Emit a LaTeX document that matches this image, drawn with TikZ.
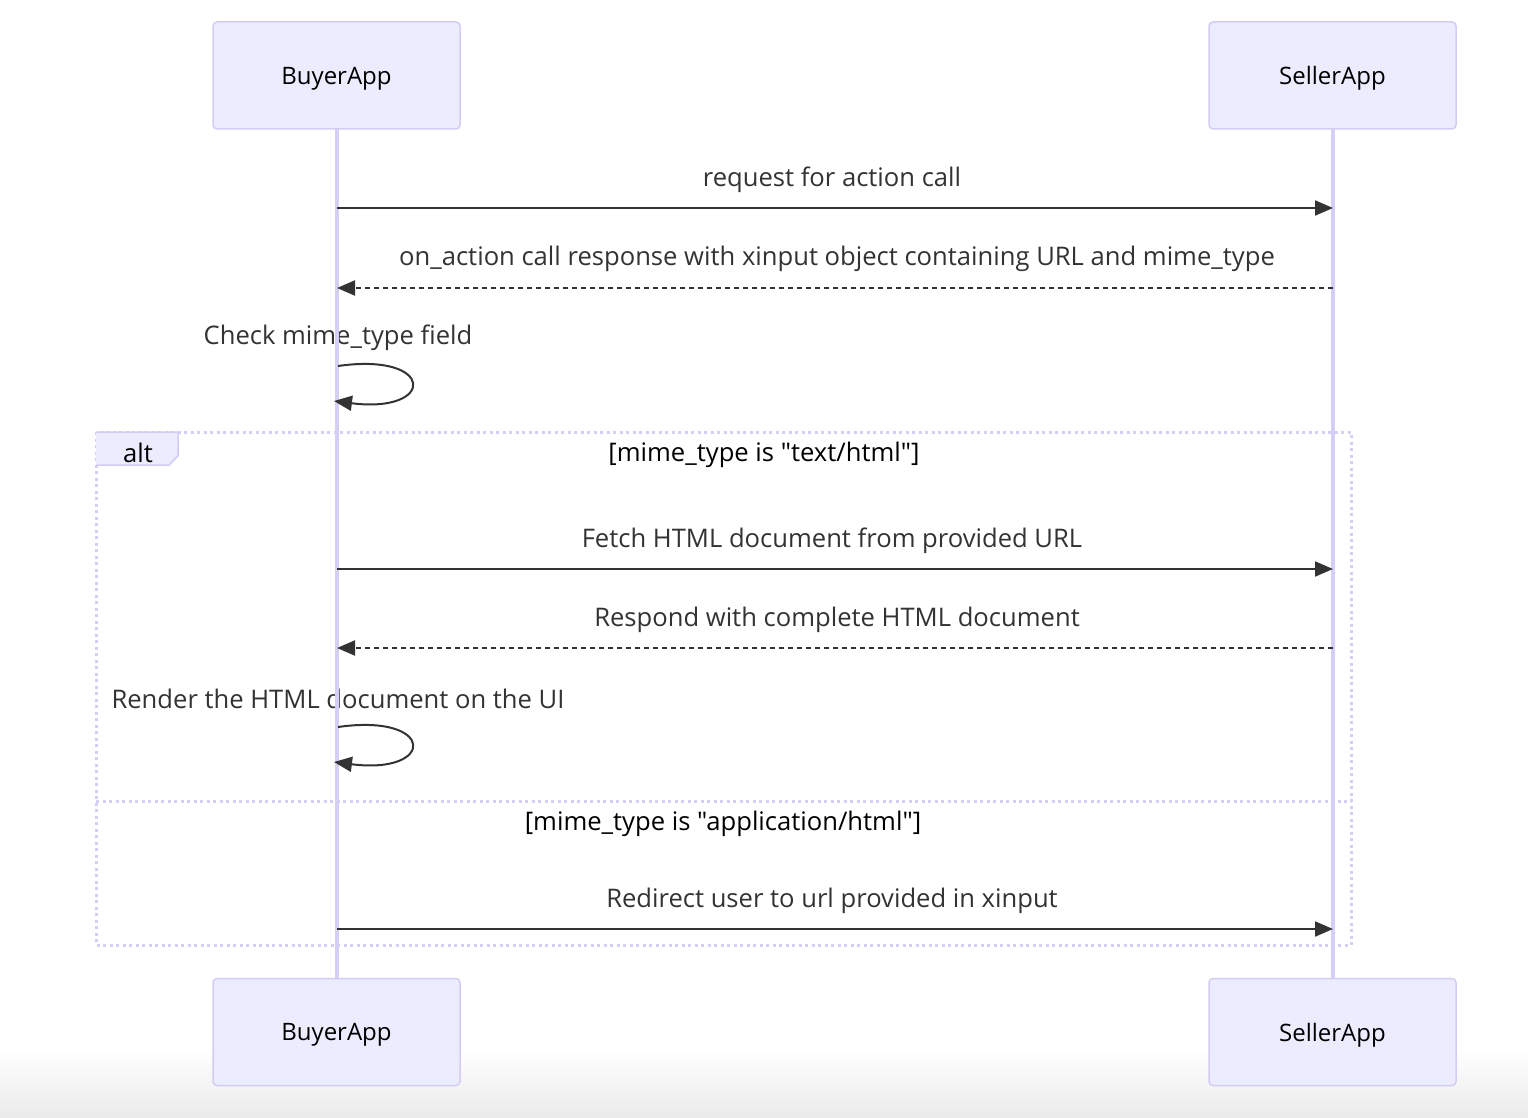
\documentclass[tikz,border=0pt]{standalone}
\usepackage{fontspec}
\setmainfont{Open Sans}[Ligatures=TeXOff]
\usetikzlibrary{arrows.meta,shapes.geometric}
\definecolor{actfill}{HTML}{ECECFF}
\definecolor{actdraw}{HTML}{D4CCF2}
\definecolor{life}{HTML}{D6CEF4}
\definecolor{msg}{HTML}{333333}
\tikzset{
  actor/.style={draw=actdraw, line width=1.5pt, fill=actfill, rounded corners=4pt, minimum width=247pt, minimum height=107pt, font=\fontsize{24}{28}\selectfont, text=black, text depth=0pt},
  lifeline/.style={draw=life, line width=3.2pt},
  msgtxt/.style={font=\fontsize{25.6}{30}\selectfont, text=msg, inner sep=0pt},
  cond/.style={font=\fontsize{25.6}{30}\selectfont, text=black, inner sep=0pt},
  solidmsg/.style={draw=msg, line width=2pt, -{Triangle[length=18pt,width=15pt]}},
  dashmsg/.style={draw=msg, line width=2pt, dash pattern=on 5pt off 4pt, -{Triangle[length=18pt,width=15pt]}},
  altline/.style={draw=life, line width=3pt, dash pattern=on 3pt off 3.5pt},
}
\begin{document}
\begin{tikzpicture}[x=1pt,y=-1pt]
\useasboundingbox (0,0) rectangle (1528,1118);
\fill[white] (0,0) rectangle (1528,1118);
\shade[top color=white, bottom color=black!8] (0,1050) rectangle (1528,1118);
% labels (under the lifelines)
\node[msgtxt] (l1) at (832,180) {request for action call};
\node[msgtxt] (l2) at (837,259) {on\_action call response with xinput object containing URL and mime\_type};
\node[msgtxt] (l3) at (338,338) {Check mime\_type field};
\node[msgtxt] (l4) at (832,541) {Fetch HTML document from provided URL};
\node[msgtxt] (l5) at (837,620) {Respond with complete HTML document};
\node[msgtxt] (l6) at (338,699) {Render the HTML document on the UI};
\node[msgtxt] (l7) at (832,901) {Redirect user to url provided in xinput};
% alt frame
\coordinate (altA) at (96,432); \coordinate (altB) at (1351,945);
\draw[altline] (altA) rectangle (altB);
\coordinate (divL) at (96,801); \coordinate (divR) at (1351,801);
\draw[altline] (divL) -- (divR);
\fill[actfill] (96,432) -- (178,432) -- (178,456) -- (169,465) -- (96,465) -- cycle;
\draw[actdraw, line width=1.5pt] (96,432) -- (178,432) -- (178,456) -- (169,465) -- (96,465);
\node[cond] (altlbl) at (138,453) {alt};
\node[cond] (c1) at (764,455) {[mime\_type is "text/html"]};
\node[cond] (c2) at (723,824) {[mime\_type is "application/html"]};
% lifelines
\coordinate (btop) at (337,129); \coordinate (bbot) at (337,979);
\coordinate (stop) at (1333,129); \coordinate (sbot) at (1333,979);
\draw[lifeline] (btop) -- (bbot);
\draw[lifeline] (stop) -- (sbot);
% actors
\node[actor] (buyerT) at (336.5,75.5) {BuyerApp};
\node[actor] (sellerT) at (1332.5,75.5) {SellerApp};
\node[actor] (buyerB) at (336.5,1032) {BuyerApp};
\node[actor] (sellerB) at (1332.5,1032) {SellerApp};
% messages
\coordinate (m1a) at (337,208); \coordinate (m1b) at (1333,208);
\draw[solidmsg] (m1a) -- (m1b);
\coordinate (m2a) at (1333,288); \coordinate (m2b) at (337,288);
\draw[dashmsg] (m2a) -- (m2b);
\coordinate (s1a) at (338,366); \coordinate (s1b) at (334,401);
\draw[solidmsg] (s1a) .. controls (436,352) and (436,414) .. (s1b);
\coordinate (m3a) at (337,569); \coordinate (m3b) at (1333,569);
\draw[solidmsg] (m3a) -- (m3b);
\coordinate (m4a) at (1333,648); \coordinate (m4b) at (337,648);
\draw[dashmsg] (m4a) -- (m4b);
\coordinate (s2a) at (338,727); \coordinate (s2b) at (334,762);
\draw[solidmsg] (s2a) .. controls (436,713) and (436,775) .. (s2b);
\coordinate (m5a) at (337,929); \coordinate (m5b) at (1333,929);
\draw[solidmsg] (m5a) -- (m5b);
\end{tikzpicture}
\end{document}
